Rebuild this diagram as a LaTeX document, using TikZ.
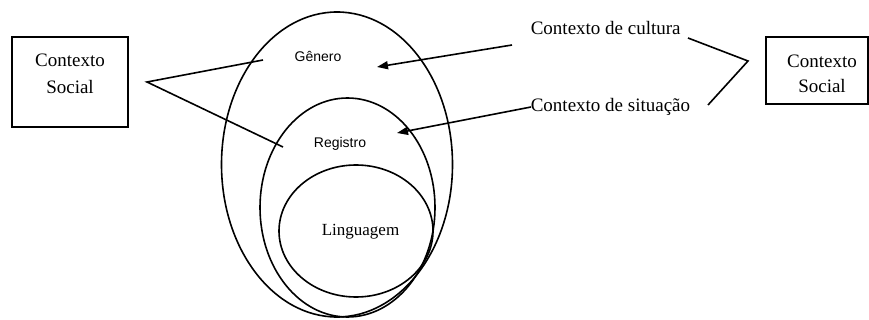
\documentclass[tikz,border=0pt]{standalone}
\usepackage{fontspec}
\setmainfont{Liberation Serif}
\newfontfamily\arialf{Liberation Sans}
\usetikzlibrary{arrows.meta,shapes.geometric}
\begin{document}
\begin{tikzpicture}[x=1pt,y=-1pt,line width=1.6pt,
  serif/.style={font=\fontsize{19}{27}\selectfont, inner sep=0pt, align=center},
  sans/.style={font=\arialf\fontsize{14}{17}\selectfont, inner sep=0pt},
  boxnode/.style={draw, rectangle, inner sep=0pt},
  ell/.style={draw, ellipse, inner sep=0pt},
  arr/.style={-{Triangle[length=11pt,width=8pt]}}]
\useasboundingbox (0,0) rectangle (869,320);
% ellipses
\node[ell, minimum width=231pt, minimum height=305pt] (outer) at (337,164.5) {};
\node[ell, minimum width=175pt, minimum height=219pt] (middle) at (347.5,207.5) {};
\node[ell, minimum width=154pt, minimum height=132pt] (inner) at (356,231) {};
\node[sans, anchor=base] (gen) at (318,62) {Gênero};
\node[sans, anchor=base] (reg) at (340,148) {Registro};
\node[serif, anchor=base, font=\fontsize{17}{20}\selectfont] (ling) at (360.5,236) {Linguagem};
% left box
\node[boxnode, minimum width=116pt, minimum height=90pt] (lbox) at (70,82) {};
\node[serif] (ltext) at (70,74) {Contexto\\Social};
% right box
\node[boxnode, minimum width=102pt, minimum height=67pt] (rbox) at (817,70.5) {};
\node[serif, font=\fontsize{19}{25}\selectfont] (rtext) at (822,74) {Contexto\\Social};
% context labels
\node[serif, anchor=base west] (cult) at (530,35) {Contexto de cultura};
\node[serif, anchor=base west] (sit) at (530,112) {Contexto de situação};
% coordinates
\coordinate (lapex) at (147,82);
\coordinate (lg) at (263,60);
\coordinate (lr) at (283,147);
\coordinate (cs) at (512,45);
\coordinate (ct) at (377,67);
\coordinate (ss) at (531,107);
\coordinate (st) at (397,133);
\coordinate (r1) at (688,38);
\coordinate (rapex) at (748,61);
\coordinate (r2) at (708,105);
% connectors
\draw (lg) -- (lapex) -- (lr);
\draw[arr] (cs) -- (ct);
\draw[arr] (ss) -- (st);
\draw (r1) -- (rapex) -- (r2);
\end{tikzpicture}
\end{document}
